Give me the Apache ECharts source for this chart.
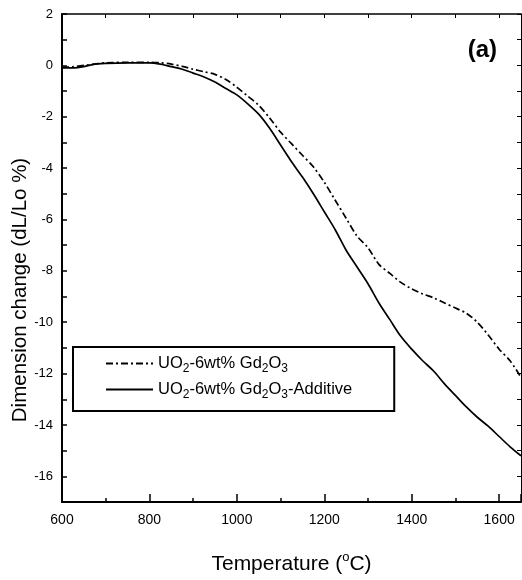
<!DOCTYPE html>
<html>
<head>
<meta charset="utf-8">
<script src="https://cdn.jsdelivr.net/npm/echarts@6/dist/echarts.min.js"></script>
<style>
  html, body { margin: 0; padding: 0; background: #fff; }
  #chart { width: 522px; height: 580px; }
</style>
</head>
<body>
<div id="chart"></div>
<script>
// temperature (oC)
const temps = [600, 625, 650, 675, 700, 750, 800, 825, 850, 875, 900, 925, 950, 975,
  1000, 1025, 1050, 1075, 1100, 1125, 1150, 1175, 1200, 1225, 1250, 1275, 1300, 1325,
  1350, 1375, 1400, 1425, 1450, 1475, 1500, 1525, 1550, 1575, 1600, 1625, 1650]

// UO2-6wt% Gd2O3 (dash-dot)
const dimPlain = [-0.08, -0.05, 0.0, 0.05, 0.1, 0.12, 0.12, 0.1, 0.05, -0.04, -0.15, -0.25, -0.35, -0.55,
  -0.85, -1.2, -1.55, -2.05, -2.6, -3.05, -3.5, -3.95, -4.55, -5.25, -5.95, -6.65, -7.1, -7.75,
  -8.1, -8.45, -8.7, -8.9, -9.05, -9.25, -9.45, -9.65, -10.0, -10.5, -11.05, -11.5, -12.15]

// UO2-6wt% Gd2O3-Additive (solid)
const dimAdditive = [-0.1, -0.1, -0.05, 0.05, 0.08, 0.1, 0.1, 0.05, -0.05, -0.15, -0.3, -0.45, -0.65, -0.9,
  -1.15, -1.5, -1.9, -2.45, -3.1, -3.75, -4.35, -5.0, -5.7, -6.4, -7.2, -7.85, -8.5, -9.25,
  -9.9, -10.55, -11.05, -11.5, -11.9, -12.4, -12.85, -13.3, -13.7, -14.05, -14.45, -14.85, -15.2]

const seriesNames = ['UO2-6wt% Gd2O3', 'UO2-6wt% Gd2O3-Additive']
const legendLabels = {
  'UO2-6wt% Gd2O3': '{n|UO}{s|2}{n|-6wt% Gd}{s|2}{n|O}{s|3}',
  'UO2-6wt% Gd2O3-Additive': '{n|UO}{s|2}{n|-6wt% Gd}{s|2}{n|O}{s|3}{n|-Additive}'
}

const font = 'Liberation Sans, Arial, sans-serif'
const chart = echarts.init(document.getElementById('chart'))

function pairs(ys) {
  return temps.map((t, i) => [t, ys[i]])
}

function lineSeries(name, ys, type) {
  return {
    name,
    type: 'line',
    data: pairs(ys),
    smooth: 0.3,
    symbol: 'none',
    lineStyle: { color: '#000', width: 1.7, type },
    itemStyle: { color: '#000' },
    z: 3
  }
}

const option = {
  animation: false,
  backgroundColor: '#fff',
  grid: { left: 62, right: 1, top: 14, bottom: 76 },
  title: {
    text: '(a)',
    right: 20,
    top: 33,
    textStyle: { fontFamily: font, fontSize: 24, fontWeight: 'bold', color: '#000' }
  },
  graphic: [{
    type: 'text',
    x: 20,
    y: 290,
    rotation: Math.PI / 2,
    style: {
      text: 'Dimension change (dL/Lo %)',
      fontFamily: font,
      fontSize: 20.5,
      fill: '#000',
      align: 'center',
      verticalAlign: 'middle'
    }
  }],
  legend: {
    orient: 'vertical',
    left: 73,
    top: 347,
    padding: [8, 42, 10, 32],
    itemGap: 6,
    itemWidth: 47,
    itemHeight: 14,
    borderColor: '#000',
    borderWidth: 2,
    itemStyle: { opacity: 0 },
    data: seriesNames,
    formatter: name => legendLabels[name],
    textStyle: {
      color: '#000',
      rich: {
        n: { fontFamily: font, fontSize: 16.5, color: '#000' },
        s: { fontFamily: font, fontSize: 12, color: '#000', padding: [11, 0, 0, 0] }
      }
    }
  },
  xAxis: [{
    type: 'value',
    min: 600,
    max: 1650,
    interval: 200,
    name: '{n|Temperature (}{u|o}{n|C)}',
    nameLocation: 'middle',
    nameGap: 49,
    nameTextStyle: {
      rich: {
        n: { fontFamily: font, fontSize: 21, color: '#000' },
        u: { fontFamily: font, fontSize: 13, color: '#000', padding: [0, 0, 14, 0] }
      }
    },
    axisLine: { onZero: false, lineStyle: { color: '#000', width: 2 } },
    axisTick: { inside: true, length: 8, lineStyle: { color: '#000', width: 1.5 } },
    minorTick: { show: true, splitNumber: 2, length: 4, lineStyle: { color: '#000', width: 1.5 } },
    axisLabel: {
      color: '#000', fontFamily: font, fontSize: 14, margin: 11, showMaxLabel: false,
      formatter: v => String(v)
    },
    splitLine: { show: false }
  }, {
    type: 'value',
    position: 'top',
    min: 600,
    max: 1650,
    interval: 100,
    axisLine: { onZero: false, lineStyle: { color: '#000', width: 1.5 } },
    axisTick: { inside: true, length: 4, lineStyle: { color: '#000', width: 1 } },
    axisLabel: { show: false },
    splitLine: { show: false }
  }],
  yAxis: [{
    type: 'value',
    min: -17,
    max: 2,
    interval: 1,
    axisLine: { onZero: false, lineStyle: { color: '#000', width: 2 } },
    axisTick: { inside: true, length: 5, lineStyle: { color: '#000', width: 1.5 } },
    axisLabel: {
      color: '#000',
      fontFamily: font,
      fontSize: 13,
      margin: 9,
      formatter: v => (Math.round(v) % 2 === 0 ? String(Math.round(v)) : '')
    },
    splitLine: { show: false }
  }, {
    type: 'value',
    position: 'right',
    min: -17,
    max: 2,
    interval: 1,
    axisLine: { onZero: false, lineStyle: { color: '#000', width: 1 } },
    axisTick: { inside: true, length: 4, lineStyle: { color: '#000', width: 1 } },
    axisLabel: { show: false },
    splitLine: { show: false }
  }],
  series: [
    lineSeries(seriesNames[0], dimPlain, [7, 3, 2, 3]),
    lineSeries(seriesNames[1], dimAdditive, 'solid')
  ]
}

chart.setOption(option)
</script>
</body>
</html>
